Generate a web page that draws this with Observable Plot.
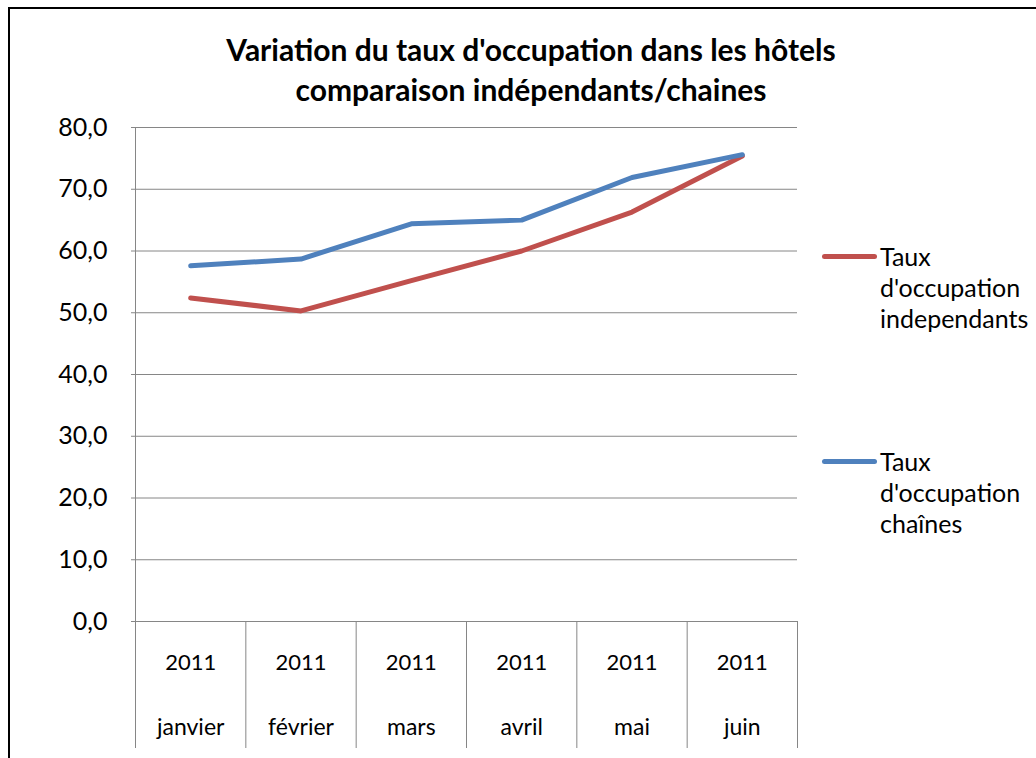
<!DOCTYPE html>
<html><head><meta charset="utf-8">
<script src="https://cdn.jsdelivr.net/npm/d3@7"></script>
<script src="https://cdn.jsdelivr.net/npm/@observablehq/plot@0.6"></script>
<style>
body{margin:0;background:#fff;}
#wrap{position:relative;width:1036px;height:758px;overflow:hidden;font-family:Lato,sans-serif;color:#000;}
#chart{position:absolute;left:0;top:0;}
#frame{position:absolute;left:8px;top:7px;width:1100px;height:800px;border-left:2px solid #000;border-top:2px solid #000;pointer-events:none;}
#title{position:absolute;left:0;width:1062px;top:29px;text-align:center;font-weight:bold;font-size:30px;line-height:40px;}
.leg{position:absolute;left:822px;font-size:25px;line-height:31px;}
.leg .sw{position:absolute;left:0;top:13px;width:55px;height:5px;border-radius:3px;}
.leg .tx{margin-left:58px;white-space:nowrap;}
</style></head>
<body>
<div id="wrap">
  <div id="chart"></div>
  <div id="title"></div>
  <div id="legend"></div>
  <div id="frame"></div>
</div>
<script>
const titleLines = ["Variation du taux d'occupation dans les hôtels", "comparaison indépendants/chaines"];
const months = ["janvier", "février", "mars", "avril", "mai", "juin"];
const years = ["2011", "2011", "2011", "2011", "2011", "2011"];
const independants = [52.4, 50.3, 55.2, 60.0, 66.3, 75.4];
const chaines = [57.6, 58.7, 64.4, 65.0, 71.9, 75.6];
const yTicks = [0, 10, 20, 30, 40, 50, 60, 70, 80];
const seriesNames = ["Taux d'occupation independants", "Taux d'occupation chaînes"];
const seriesLegendLines = [["Taux", "d'occupation", "independants"], ["Taux", "d'occupation", "chaînes"]];
const seriesColors = ["#C0504D", "#4F81BD"];
const seriesValues = [independants, chaines];

const data = seriesNames.flatMap((name, s) => seriesValues[s].map((v, i) => ({x: i + 0.5, y: v, s: name})));
const centers = months.map((m, i) => i + 0.5);
const bounds = d3.range(months.length + 1);

const chart = Plot.plot({
  width: 1036, height: 758,
  marginLeft: 135, marginRight: 239, marginTop: 127, marginBottom: 137,
  x: {domain: [0, months.length], axis: null},
  y: {domain: [0, 80], axis: null},
  color: {domain: seriesNames, range: seriesColors},
  style: {fontFamily: "Lato, sans-serif", fontSize: "22px", color: "#000", background: "transparent"},
  marks: [
    Plot.gridY(yTicks, {stroke: "#868686", strokeOpacity: 1, strokeWidth: 1}),
    Plot.axisY(yTicks, {label: null, tickSize: 4, stroke: "#868686", tickPadding: 24, fontSize: 25, fill: "#000",
      tickFormat: d => d.toFixed(1).replace(".", ",")}),
    Plot.ruleX([0], {stroke: "#868686"}),
    Plot.axisX(bounds, {label: null, tickSize: 127, stroke: "#868686", tickFormat: () => ""}),
    Plot.axisX(centers, {label: null, tickSize: 0, tickPadding: 33, fontSize: 22, fill: "#000", tickFormat: d => years[Math.floor(d)]}),
    Plot.axisX(centers, {label: null, tickSize: 0, tickPadding: 97, fontSize: 23, fill: "#000", tickFormat: d => months[Math.floor(d)]}),
    Plot.line(data, {x: "x", y: "y", z: "s", stroke: "s", strokeWidth: 5, strokeLinejoin: "round", strokeLinecap: "round"})
  ]
});
document.getElementById("chart").append(chart);

document.getElementById("title").innerHTML = titleLines.map(t => `<div>${t}</div>`).join("");
const legTops = [241, 446];
document.getElementById("legend").innerHTML = seriesNames.map((n, i) =>
  `<div class="leg" style="top:${legTops[i]}px"><div class="sw" style="background:${seriesColors[i]}"></div><div class="tx">${seriesLegendLines[i].join("<br>")}</div></div>`
).join("");
</script>
</body></html>
